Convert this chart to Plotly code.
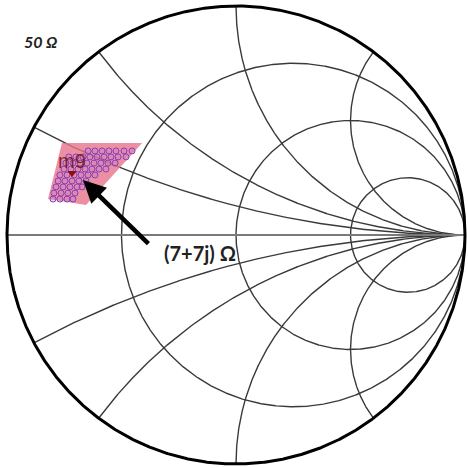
import numpy as np
import plotly.graph_objects as go

# ---- data ----
resistance_values = [1/3, 1.0, 3.0]          # normalized r circles
reactance_values = [0.25, 0.5, 1.0, 2.0]     # normalized |x| arcs (drawn +/-)
z0_label = "50 Ω"
point_label = "(7+7j) Ω"
marker_label = "m9"

# reflection-coefficient coordinates of the sampled impedance cluster (row by row)
cluster_rows_im = [0.367, 0.341, 0.314, 0.288, 0.262, 0.236, 0.210, 0.183, 0.157]
cluster_rows_re = [
    [-0.646, -0.616, -0.585, -0.555, -0.524, -0.489, -0.454],
    [-0.730, -0.699, -0.668, -0.638, -0.607, -0.576, -0.546, -0.515, -0.480],
    [-0.743, -0.712, -0.681, -0.651, -0.620, -0.590, -0.559, -0.528],
    [-0.751, -0.721, -0.690, -0.659, -0.629, -0.598, -0.568],
    [-0.769, -0.738, -0.707, -0.677, -0.646, -0.616],
    [-0.777, -0.747, -0.716, -0.686, -0.655],
    [-0.786, -0.755, -0.725, -0.694, -0.672],
    [-0.795, -0.764, -0.734, -0.703],
    [-0.799, -0.769, -0.738, -0.712],
]
region_re = [-0.760, -0.410, -0.655, -0.821]
region_im = [0.402, 0.402, 0.131, 0.157]
m9_re, m9_im = -0.716, 0.271
arrow_tail = (-0.376, -0.044)
arrow_head = (-0.668, 0.240)

fig = go.Figure()

grid_color = "#3a3a3a"

# resistance circles
t = np.linspace(-np.pi / 2 + 1e-4, np.pi / 2 - 1e-4, 1200)
for r in resistance_values:
    z = r + 1j * np.tan(t)
    g = (z - 1) / (z + 1)
    fig.add_trace(go.Scatter(x=np.real(g), y=np.imag(g), mode="lines",
                             line=dict(color=grid_color, width=1.4),
                             hoverinfo="skip", showlegend=False))

# reactance arcs
s = np.linspace(0, np.pi / 2 - 1e-4, 1200)
for xv in reactance_values:
    for sign in (1, -1):
        z = np.tan(s) + 1j * sign * xv
        g = (z - 1) / (z + 1)
        fig.add_trace(go.Scatter(x=np.real(g), y=np.imag(g), mode="lines",
                                 line=dict(color=grid_color, width=1.4),
                                 hoverinfo="skip", showlegend=False))

# real axis
fig.add_trace(go.Scatter(x=[-1, 1], y=[0, 0], mode="lines",
                         line=dict(color="#7a7a7a", width=2),
                         hoverinfo="skip", showlegend=False))

# outer circle (r = 0, |Gamma| = 1)
phi = np.linspace(0, 2 * np.pi, 1500)
fig.add_trace(go.Scatter(x=np.cos(phi), y=np.sin(phi), mode="lines",
                         line=dict(color="#000000", width=3),
                         hoverinfo="skip", showlegend=False))

# pink region
fig.add_trace(go.Scatter(x=region_re + [region_re[0]], y=region_im + [region_im[0]],
                         mode="lines", fill="toself", fillcolor="rgba(232,115,140,0.8)",
                         line=dict(width=0), hoverinfo="skip", showlegend=False))

# cluster markers
cx, cy = [], []
for yi, row in zip(cluster_rows_im, cluster_rows_re):
    for xi in row:
        cx.append(xi)
        cy.append(yi)
fig.add_trace(go.Scatter(x=cx, y=cy, mode="markers",
                         marker=dict(symbol="circle", size=6, color="rgba(205,120,190,0.35)",
                                     line=dict(color="#8040c0", width=1)),
                         hoverinfo="skip", showlegend=False))

# m9 marker
fig.add_trace(go.Scatter(x=[m9_re], y=[m9_im], mode="markers",
                         marker=dict(symbol="triangle-down", size=8, color="#8a1010"),
                         hoverinfo="skip", showlegend=False))

fig.add_annotation(x=m9_re + 0.0, y=m9_im + 0.05, text=marker_label, showarrow=False,
                   font=dict(family="Liberation Sans", size=20, color="rgba(110,20,20,0.85)"))

# arrow
fig.add_annotation(x=arrow_head[0], y=arrow_head[1], ax=arrow_tail[0], ay=arrow_tail[1],
                   xref="x", yref="y", axref="x", ayref="y", text="", showarrow=True,
                   arrowhead=2, arrowsize=1, arrowwidth=4.5, arrowcolor="#000000", standoff=0)

fig.add_annotation(x=-0.157, y=-0.079, text=point_label, showarrow=False,
                   font=dict(family="Lato", size=20, color="#222222", weight="bold"))

fig.add_annotation(x=-0.852, y=0.843, text=z0_label, showarrow=False,
                   font=dict(family="Lato", size=16, color="#222222", weight="bold", style="italic"))

fig.update_xaxes(range=[-236 / 229, 232 / 229], visible=False, fixedrange=True)
fig.update_yaxes(range=[-233 / 229, 235 / 229], visible=False, fixedrange=True)
fig.update_layout(width=468, height=468, margin=dict(l=0, r=0, t=0, b=0),
                  plot_bgcolor="white", paper_bgcolor="white")

fig.write_html("out.html", config={"displayModeBar": False},
               post_script="document.body.style.margin='0';")
